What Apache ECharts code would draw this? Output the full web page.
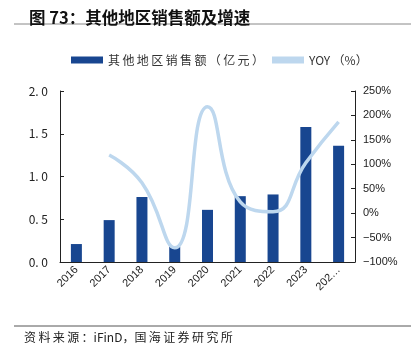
<!DOCTYPE html>
<html>
<head>
<meta charset="utf-8">
<script src="https://cdn.jsdelivr.net/npm/echarts@6/dist/echarts.min.js"></script>
<style>
  html, body { margin: 0; padding: 0; background: #fff; }
  #main { width: 411px; height: 354px; }
</style>
</head>
<body>
<div id="main"></div>
<script>
var years = ['2016', '2017', '2018', '2019', '2020', '2021', '2022', '2023', '2024E'];
var sales = [0.21, 0.49, 0.76, 0.18, 0.61, 0.77, 0.79, 1.58, 1.36];
var yoy = [null, 119, 62, -71, 218, 23, 3, 103, 187];
var leftTicks = [0, 2, 0.5];
var rightTicks = [-100, 250, 50];

var cjk = '"Noto Sans CJK SC", sans-serif';
// spread CJK characters a little, like the PDF rendering
function spread(s, sp) {
    return s.split('').join(sp);
}
var barName = '其他地区销售额（亿元）';
var lineName = 'YOY（%）';

var myChart = echarts.init(document.getElementById('main'));

var option = {
    animation: false,
    title: {
        text: '图 73：其他地区销售额及增速',
        left: 24, top: 4,
        textStyle: { fontFamily: cjk, fontSize: 16.5, fontWeight: 'bold', color: '#111' }
    },
    graphic: [
        { type: 'line', shape: { x1: 14, y1: 24, x2: 411, y2: 24 }, style: { stroke: '#888', lineWidth: 1 } },
        { type: 'line', shape: { x1: 14, y1: 326, x2: 411, y2: 326 }, style: { stroke: '#555', lineWidth: 1 } },
        { type: 'text', left: 24, top: 331, style: { text: spread('资料来源：', '\u2009') + 'iFinD，' + spread('国海证券研究所', '\u2009'), font: '12px "Noto Sans CJK SC"', fill: '#222' } }
    ],
    legend: {
        top: 49, left: 66,
        itemGap: 8,
        textStyle: { fontFamily: cjk, fontSize: 12, color: '#333' },
        formatter: function (n) { return n === barName ? spread(n, '\u2009') : 'YOY\u2009（%）'; },
        data: [
            { name: barName, icon: 'rect', itemWidth: 32, itemHeight: 7 },
            { name: lineName, icon: 'rect', itemWidth: 34, itemHeight: 3 }
        ],
        itemWidth: 32, itemHeight: 7
    },
    grid: { left: 60, right: 56, top: 91, bottom: 92 },
    xAxis: {
        type: 'category',
        data: years,
        axisLine: { lineStyle: { color: '#222' } },
        axisTick: { inside: true, length: 4, lineStyle: { color: '#222' } },
        axisLabel: {
            rotate: 45, fontSize: 11, color: '#222', margin: 6,
            fontFamily: 'Liberation Sans',
            formatter: function (v) { return v.length > 4 ? v.slice(0, 3) + '…' : v; }
        }
    },
    yAxis: [
        {
            type: 'value', min: leftTicks[0], max: leftTicks[1], interval: leftTicks[2],
            splitLine: { show: false },
            axisLine: { show: true, lineStyle: { color: '#222' } },
            axisTick: { show: true, inside: true, length: 4, lineStyle: { color: '#222' } },
            axisLabel: {
                fontSize: 12, color: '#222', margin: 12,
                fontFamily: cjk,
                formatter: function (v) { return v.toFixed(1).replace('.', '. '); }
            }
        },
        {
            type: 'value', min: rightTicks[0], max: rightTicks[1], interval: rightTicks[2],
            splitLine: { show: false },
            axisLine: { show: true, lineStyle: { color: '#222' } },
            axisTick: { show: true, inside: true, length: 4, lineStyle: { color: '#222' } },
            axisLabel: {
                fontSize: 11, color: '#222', margin: 8,
                fontFamily: 'Liberation Sans',
                formatter: function (v) { return (v < 0 ? '−' + (-v) : v) + '%'; }
            }
        }
    ],
    series: [
        {
            name: barName,
            type: 'bar',
            data: sales,
            barWidth: 11,
            itemStyle: { color: '#184690' }
        },
        {
            name: lineName,
            type: 'line',
            yAxisIndex: 1,
            data: yoy,
            smooth: 0.5,
            showSymbol: false,
            lineStyle: { color: '#BDD7EE', width: 3.5 },
            itemStyle: { color: '#BDD7EE' }
        }
    ]
};

myChart.setOption(option);
</script>
</body>
</html>
